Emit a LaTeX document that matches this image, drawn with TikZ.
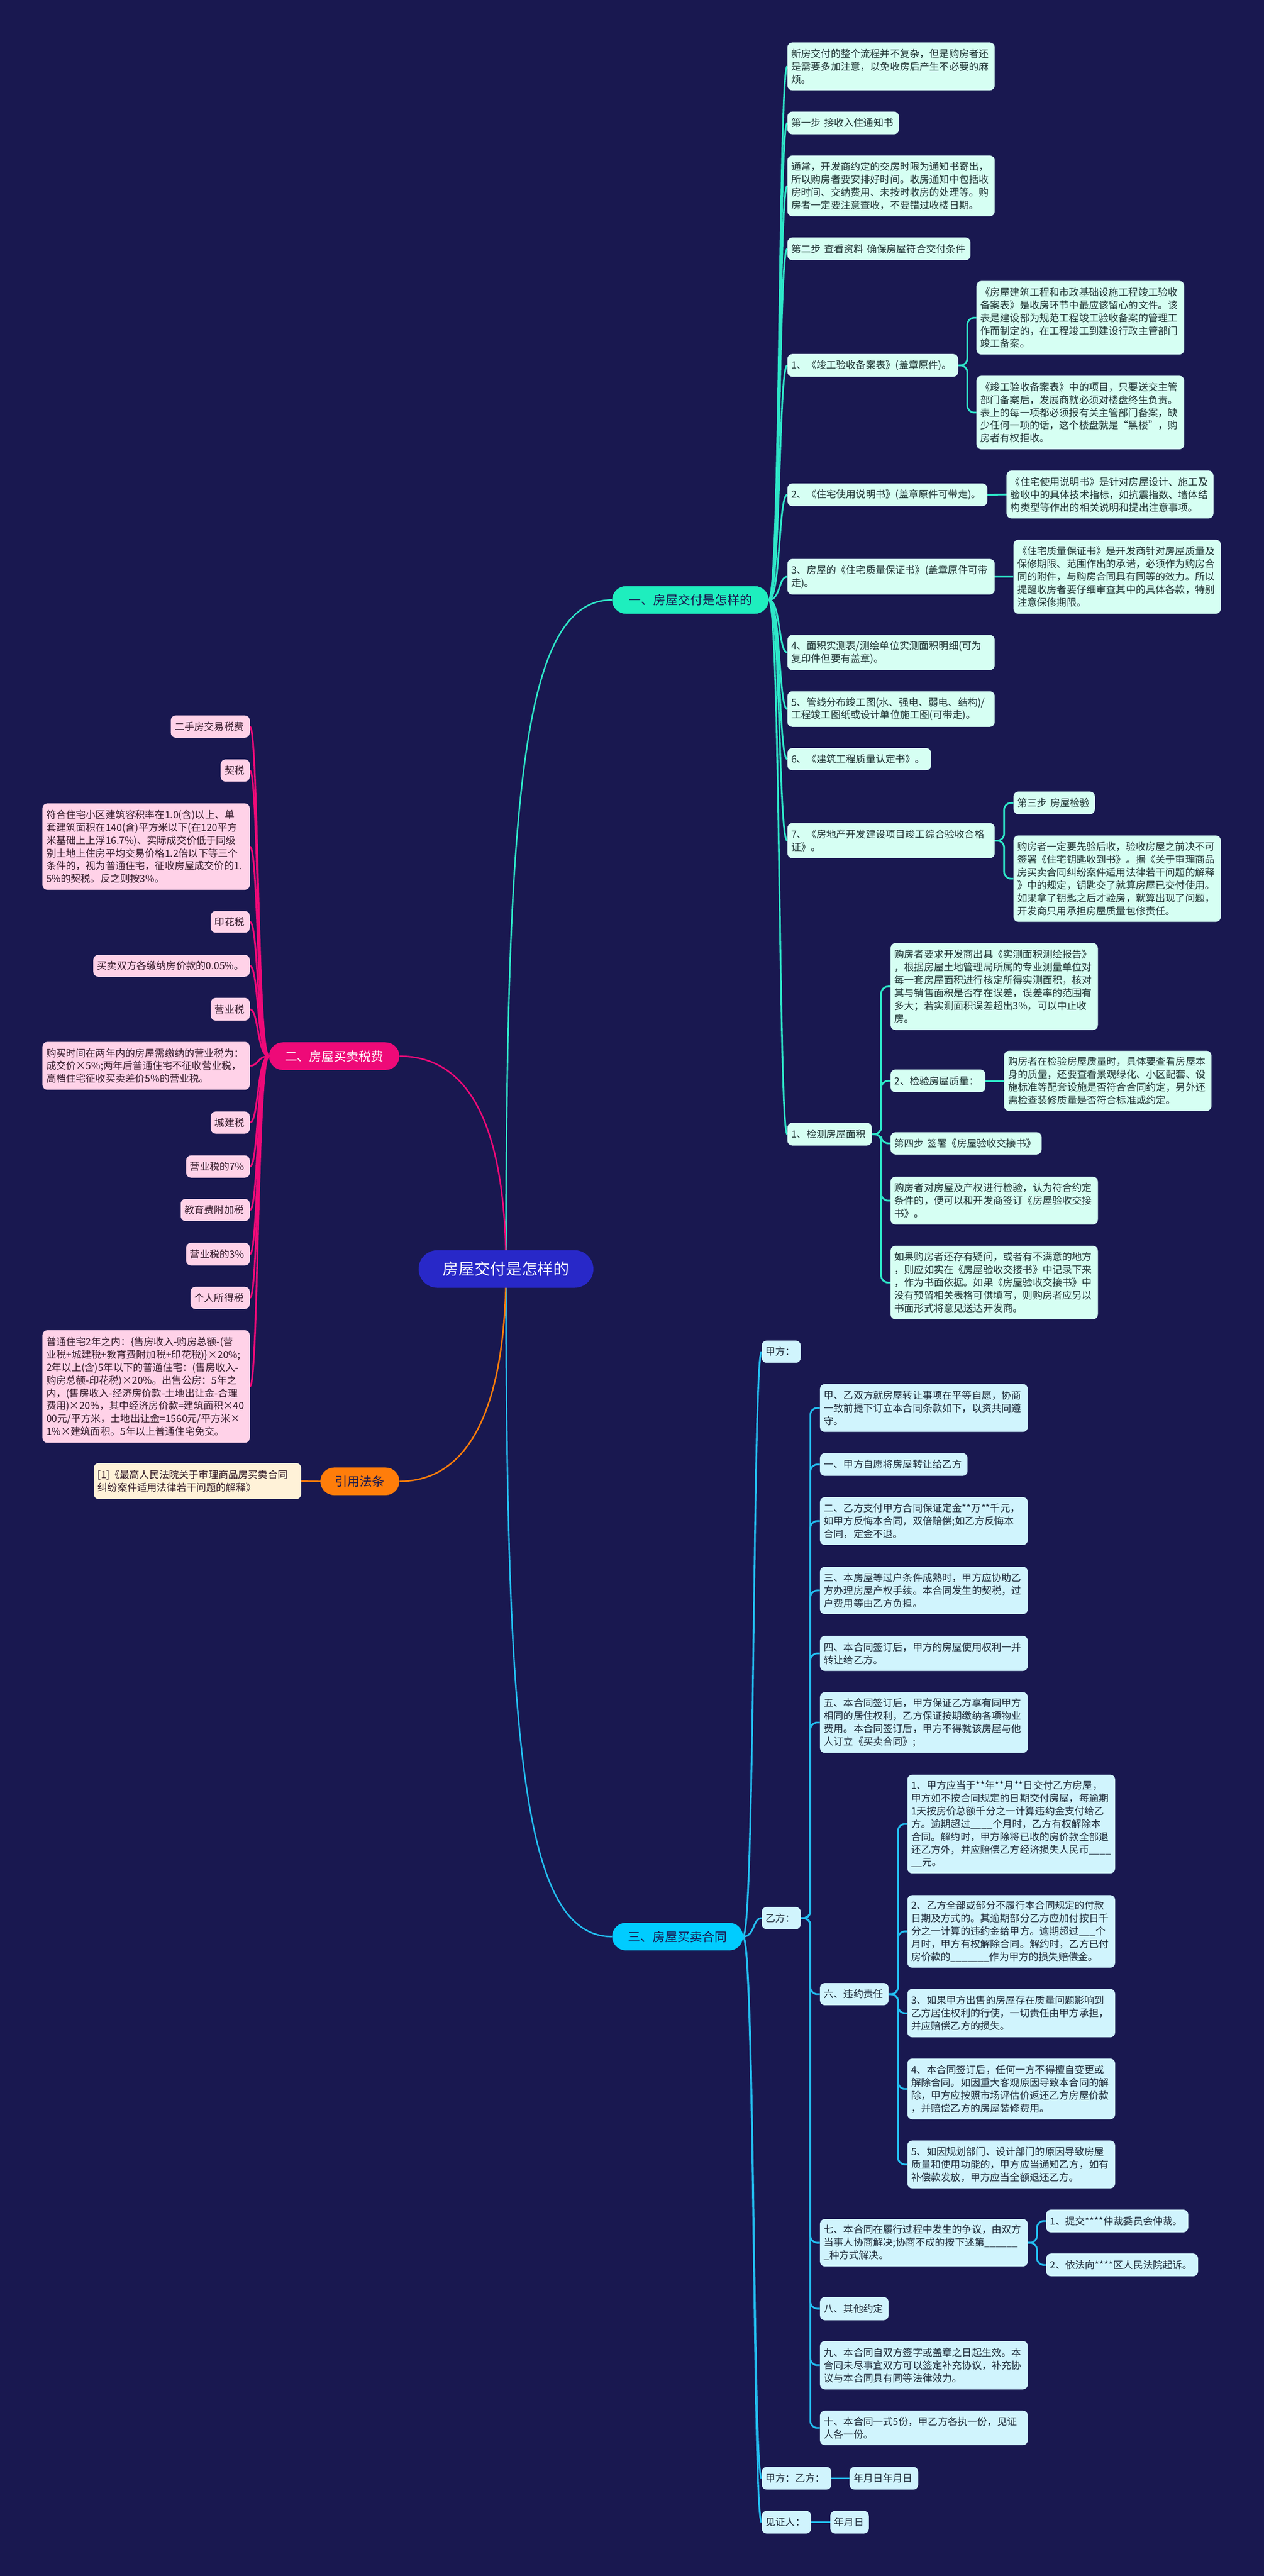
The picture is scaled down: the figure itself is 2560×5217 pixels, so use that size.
\documentclass[tikz,border=0pt]{standalone}
\usepackage{fontspec}
\setmainfont{Noto Sans CJK SC}
\usetikzlibrary{calc}
\definecolor{bgc}{RGB}{25,24,80}
\definecolor{mintl}{RGB}{46,230,200}
\definecolor{mintn}{RGB}{30,238,190}
\definecolor{mintb}{RGB}{214,255,243}
\definecolor{mintt}{RGB}{30,50,50}
\definecolor{pinkl}{RGB}{238,10,120}
\definecolor{pinkb}{RGB}{255,210,232}
\definecolor{pinkt}{RGB}{50,25,40}
\definecolor{cyanl}{RGB}{35,190,240}
\definecolor{cyann}{RGB}{0,204,255}
\definecolor{cyanb}{RGB}{208,244,253}
\definecolor{cyant}{RGB}{28,40,55}
\definecolor{orgl}{RGB}{255,125,10}
\definecolor{orgb}{RGB}{255,242,216}
\definecolor{cntr}{RGB}{40,40,200}
\pgfdeclarelayer{back}
\pgfsetlayers{back,main}
\newcommand\bx[7]{%
  \pgfmathsetmacro\bw{#5-#3}\pgfmathsetmacro\bh{#6-#4}\pgfmathsetmacro\tw{#5-#3-16}%
  \node[#2, minimum width=\bw pt, minimum height=\bh pt, text width=\tw pt] (#1) at ({(#3+#5)/2},{(#4+#6)/2}) {#7};}
\newcommand\elb[3]{%
  \path (#2.east) -- (#3.west) coordinate[pos=0.5] (mid);
  \draw[#1, rounded corners=14pt] (#2.east) -- (mid |- #2.east) -- (mid |- #3.west) -- (#3.west);}
\newcommand\trR[3]{\draw[#1] (#2.east) .. controls +(24,0) and +(-18,0) .. (#3.west);}
\newcommand\trL[3]{\draw[#1] (#2.west) .. controls +(-24,0) and +(18,0) .. (#3.east);}
\begin{document}
\begin{tikzpicture}[x=1pt,y=-1pt,
  every node/.style={font=\fontsize{20}{26}\selectfont, inner ysep=0pt, inner xsep=8pt, align=left},
  mbox/.style={fill=mintb, text=mintt, rounded corners=10pt},
  pbox/.style={fill=pinkb, text=pinkt, rounded corners=10pt},
  cbox/.style={fill=cyanb, text=cyant, rounded corners=10pt},
  obox/.style={fill=orgb, text=pinkt, rounded corners=10pt},
  bnode/.style={rounded corners=28pt, minimum height=56pt, align=center, font=\fontsize{25}{30}\selectfont},
  ml/.style={draw=mintl, line width=3.5pt},
  pl/.style={draw=pinkl, line width=3.5pt},
  cl/.style={draw=cyanl, line width=3.5pt},
  ol/.style={draw=orgl, line width=3pt}]
\useasboundingbox (0,0) rectangle (2560,5217);
\begin{pgfonlayer}{back}
\fill[bgc] (0,0) rectangle (2560,5217);
\end{pgfonlayer}

% center and branches
\node[fill=cntr, text=white, rounded corners=38pt, minimum width=354pt, minimum height=76pt, align=center, font=\fontsize{32}{36}\selectfont] (C) at (1025,2570) {房屋交付是怎样的};
\node[bnode, fill=mintn, text=bgc, minimum width=317pt] (B1) at (1398.5,1215) {一、房屋交付是怎样的};
\node[bnode, fill=pinkl, text=white, minimum width=264pt] (B2) at (677,2139) {二、房屋买卖税费};
\node[bnode, fill=orgl, text=bgc, minimum width=160pt] (B4) at (729,3000) {引用法条};
\node[bnode, fill=cyann, text=bgc, minimum width=265pt] (B3) at (1372.5,3922) {三、房屋买卖合同};

% branch 1
\bx{a1}{mbox}{1595}{86}{2015}{183}{新房交付的整个流程并不复杂，但是购房者还\\是需要多加注意，以免收房后产生不必要的麻\\烦。}
\bx{a2}{mbox}{1595}{226}{1821}{272}{第一步~接收入住通知书}
\bx{a3}{mbox}{1595}{315}{2015}{438}{通常，开发商约定的交房时限为通知书寄出，\\所以购房者要安排好时间。收房通知中包括收\\房时间、交纳费用、未按时收房的处理等。购\\房者一定要注意查收，不要错过收楼日期。}
\bx{a4}{mbox}{1595}{481}{1966}{527}{第二步~查看资料~确保房屋符合交付条件}
\bx{a5}{mbox}{1595}{717}{1941}{763}{1、《竣工验收备案表》(盖章原件)。}
\bx{a5a}{mbox}{1978}{569}{2399}{718}{《房屋建筑工程和市政基础设施工程竣工验收\\备案表》是收房环节中最应该留心的文件。该\\表是建设部为规范工程竣工验收备案的管理工\\作而制定的，在工程竣工到建设行政主管部门\\竣工备案。}
\bx{a5b}{mbox}{1978}{761}{2399}{910}{《竣工验收备案表》中的项目，只要送交主管\\部门备案后，发展商就必须对楼盘终生负责。\\表上的每一项都必须报有关主管部门备案，缺\\少任何一项的话，这个楼盘就是“黑楼”，购\\房者有权拒收。}
\bx{a6}{mbox}{1595}{979}{2000}{1025}{2、《住宅使用说明书》(盖章原件可带走)。}
\bx{a6a}{mbox}{2039}{953}{2458}{1050}{《住宅使用说明书》是针对房屋设计、施工及\\验收中的具体技术指标，如抗震指数、墙体结\\构类型等作出的相关说明和提出注意事项。}
\bx{a7}{mbox}{1595}{1132}{2015}{1204}{3、房屋的《住宅质量保证书》(盖章原件可带\\走)。}
\bx{a7a}{mbox}{2053}{1093}{2473}{1243}{《住宅质量保证书》是开发商针对房屋质量及\\保修期限、范围作出的承诺，必须作为购房合\\同的附件，与购房合同具有同等的效力。所以\\提醒收房者要仔细审查其中的具体各款，特别\\注意保修期限。}
\bx{a8}{mbox}{1595}{1286}{2015}{1357}{4、面积实测表/测绘单位实测面积明细(可为\\复印件但要有盖章)。}
\bx{a9}{mbox}{1595}{1400}{2015}{1472}{5、管线分布竣工图(水、强电、弱电、结构)/\\工程竣工图纸或设计单位施工图(可带走)。}
\bx{a10}{mbox}{1595}{1515}{1886}{1560}{6、《建筑工程质量认定书》。}
\bx{a11}{mbox}{1595}{1667}{2015}{1738}{7、《房地产开发建设项目竣工综合验收合格\\证》。}
\bx{a11a}{mbox}{2053}{1603}{2218}{1649}{第三步~房屋检验}
\bx{a11b}{mbox}{2053}{1692}{2473}{1867}{购房者一定要先验后收，验收房屋之前决不可\\签署《住宅钥匙收到书》。据《关于审理商品\\房买卖合同纠纷案件适用法律若干问题的解释\\》中的规定，钥匙交了就算房屋已交付使用。\\如果拿了钥匙之后才验房，就算出现了问题，\\开发商只用承担房屋质量包修责任。}
\bx{a12}{mbox}{1595}{2274}{1766}{2320}{1、检测房屋面积}
\bx{a12a}{mbox}{1804}{1910}{2224}{2086}{购房者要求开发商出具《实测面积测绘报告》\\，根据房屋土地管理局所属的专业测量单位对\\每一套房屋面积进行核定所得实测面积，核对\\其与销售面积是否存在误差，误差率的范围有\\多大；若实测面积误差超出3\%，可以中止收\\房。}
\bx{a12b}{mbox}{1804}{2166}{1996}{2212}{2、检验房屋质量：}
\bx{a12bb}{mbox}{2034}{2128}{2454}{2250}{购房者在检验房屋质量时，具体要查看房屋本\\身的质量，还要查看景观绿化、小区配套、设\\施标准等配套设施是否符合合同约定，另外还\\需检查装修质量是否符合标准或约定。}
\bx{a12c}{mbox}{1804}{2293}{2110}{2338}{第四步~签署《房屋验收交接书》}
\bx{a12d}{mbox}{1804}{2383}{2224}{2480}{购房者对房屋及产权进行检验，认为符合约定\\条件的，便可以和开发商签订《房屋验收交接\\书》。}
\bx{a12e}{mbox}{1804}{2523}{2224}{2672}{如果购房者还存有疑问，或者有不满意的地方\\，则应如实在《房屋验收交接书》中记录下来\\，作为书面依据。如果《房屋验收交接书》中\\没有预留相关表格可供填写，则购房者应另以\\书面形式将意见送达开发商。}

% branch 2
\bx{p1}{pbox}{346}{1449}{506}{1494}{二手房交易税费}
\bx{p2}{pbox}{447}{1538}{506}{1583}{契税}
\bx{p3}{pbox}{86}{1627}{506}{1802}{符合住宅小区建筑容积率在1.0(含)以上、单\\套建筑面积在140(含)平方米以下(在120平方\\米基础上上浮16.7\%)、实际成交价低于同级\\别土地上住房平均交易价格1.2倍以下等三个\\条件的，视为普通住宅，征收房屋成交价的1.\\5\%的契税。反之则按3\%。}
\bx{p4}{pbox}{427}{1845}{506}{1889}{印花税}
\bx{p5}{pbox}{189}{1934}{506}{1978}{买卖双方各缴纳房价款的0.05\%。}
\bx{p6}{pbox}{427}{2021}{506}{2067}{营业税}
\bx{p7}{pbox}{86}{2110}{506}{2207}{购买时间在两年内的房屋需缴纳的营业税为：\\成交价×5\%;两年后普通住宅不征收营业税，\\高档住宅征收买卖差价5\%的营业税。}
\bx{p8}{pbox}{427}{2251}{506}{2296}{城建税}
\bx{p9}{pbox}{377}{2340}{506}{2385}{营业税的7\%}
\bx{p10}{pbox}{366}{2428}{506}{2473}{教育费附加税}
\bx{p11}{pbox}{377}{2517}{506}{2563}{营业税的3\%}
\bx{p12}{pbox}{386}{2606}{506}{2651}{个人所得税}
\bx{p13}{pbox}{86}{2694}{506}{2922}{普通住宅2年之内：\{售房收入-购房总额-(营\\业税+城建税+教育费附加税+印花税)\}×20\%;\\2年以上(含)5年以下的普通住宅：(售房收入-\\购房总额-印花税)×20\%。出售公房：5年之\\内，(售房收入-经济房价款-土地出让金-合理\\费用)×20\%，其中经济房价款=建筑面积×40\\00元/平方米，土地出让金=1560元/平方米×\\1\%×建筑面积。5年以上普通住宅免交。}

% citation
\bx{o1}{obox}{190}{2963}{610}{3036}{[1]《最高人民法院关于审理商品房买卖合同\\纠纷案件适用法律若干问题的解释》}

% branch 3
\bx{c1}{cbox}{1543}{2715}{1622}{2760}{甲方：}
\bx{c2}{cbox}{1543}{3862}{1622}{3907}{乙方：}
\bx{c3}{cbox}{1543}{4996}{1684}{5042}{甲方：乙方：}
\bx{c3a}{cbox}{1721}{4996}{1860}{5042}{年月日年月日}
\bx{c4}{cbox}{1543}{5085}{1643}{5131}{见证人：}
\bx{c4a}{cbox}{1682}{5085}{1760}{5131}{年月日}
\bx{d1}{cbox}{1661}{2803}{2082}{2900}{甲、乙双方就房屋转让事项在平等自愿，协商\\一致前提下订立本合同条款如下，以资共同遵\\守。}
\bx{d2}{cbox}{1661}{2943}{1960}{2989}{一、甲方自愿将房屋转让给乙方}
\bx{d3}{cbox}{1661}{3032}{2082}{3129}{二、乙方支付甲方合同保证定金**万**千元，\\如甲方反悔本合同，双倍赔偿;如乙方反悔本\\合同，定金不退。}
\bx{d4}{cbox}{1661}{3173}{2082}{3269}{三、本房屋等过户条件成熟时，甲方应协助乙\\方办理房屋产权手续。本合同发生的契税，过\\户费用等由乙方负担。}
\bx{d5}{cbox}{1661}{3313}{2082}{3384}{四、本合同签订后，甲方的房屋使用权利一并\\转让给乙方。}
\bx{d6}{cbox}{1661}{3427}{2082}{3550}{五、本合同签订后，甲方保证乙方享有同甲方\\相同的居住权利，乙方保证按期缴纳各项物业\\费用。本合同签订后，甲方不得就该房屋与他\\人订立《买卖合同》;}
\bx{d7}{cbox}{1661}{4016}{1800}{4061}{六、违约责任}
\bx{e1}{cbox}{1838}{3594}{2259}{3794}{1、甲方应当于**年**月**日交付乙方房屋，\\甲方如不按合同规定的日期交付房屋，每逾期\\1天按房价总额千分之一计算违约金支付给乙\\方。逾期超过\_\_\_\_个月时，乙方有权解除本\\合同。解约时，甲方除将已收的房价款全部退\\还乙方外，并应赔偿乙方经济损失人民币\_\_\_\_\\\_\_元。}
\bx{e2}{cbox}{1838}{3838}{2259}{3985}{2、乙方全部或部分不履行本合同规定的付款\\日期及方式的。其逾期部分乙方应加付按日千\\分之一计算的违约金给甲方。逾期超过\_\_\_个\\月时，甲方有权解除合同。解约时，乙方已付\\房价款的\_\_\_\_\_\_\_作为甲方的损失赔偿金。}
\bx{e3}{cbox}{1838}{4028}{2259}{4126}{3、如果甲方出售的房屋存在质量问题影响到\\乙方居住权利的行使，一切责任由甲方承担，\\并应赔偿乙方的损失。}
\bx{e4}{cbox}{1838}{4169}{2259}{4292}{4、本合同签订后，任何一方不得擅自变更或\\解除合同。如因重大客观原因导致本合同的解\\除，甲方应按照市场评估价返还乙方房屋价款\\，并赔偿乙方的房屋装修费用。}
\bx{e5}{cbox}{1838}{4335}{2259}{4432}{5、如因规划部门、设计部门的原因导致房屋\\质量和使用功能的，甲方应当通知乙方，如有\\补偿款发放，甲方应当全额退还乙方。}
\bx{d8}{cbox}{1661}{4494}{2082}{4590}{七、本合同在履行过程中发生的争议，由双方\\当事人协商解决;协商不成的按下述第\_\_\_\_\_\_\\\_种方式解决。}
\bx{f1}{cbox}{2119}{4475}{2407}{4521}{1、提交****仲裁委员会仲裁。}
\bx{f2}{cbox}{2119}{4564}{2427}{4610}{2、依法向****区人民法院起诉。}
\bx{d9}{cbox}{1661}{4652}{1800}{4699}{八、其他约定}
\bx{d10}{cbox}{1661}{4741}{2082}{4839}{九、本合同自双方签字或盖章之日起生效。本\\合同未尽事宜双方可以签定补充协议，补充协\\议与本合同具有同等法律效力。}
\bx{d11}{cbox}{1661}{4882}{2082}{4952}{十、本合同一式5份，甲乙方各执一份，见证\\人各一份。}

\begin{pgfonlayer}{back}
% center curves
\draw[mintl, line width=3pt] (C.center) .. controls (1025,1600) and (1060,1215) .. (B1.west);
\draw[cyanl, line width=3pt] (C.center) .. controls (1025,3540) and (1060,3922) .. (B3.west);
\draw[pinkl, line width=3pt] (C.center) .. controls (1025,2300) and (960,2139) .. (B2.east);
\draw[orgl, line width=3pt] (C.center) .. controls (1025,2830) and (960,3000) .. (B4.east);
% branch 1
\foreach \n in {a1,a2,a3,a4,a5,a6,a7,a8,a9,a10,a11,a12}{\trR{ml}{B1}{\n}}
\elb{ml}{a5}{a5a}\elb{ml}{a5}{a5b}
\draw[ml] (a6.east) -- (a6a.west);
\draw[ml] (a7.east) -- (a7a.west);
\elb{ml}{a11}{a11a}\elb{ml}{a11}{a11b}
\foreach \n in {a12a,a12b,a12c,a12d,a12e}{\elb{ml}{a12}{\n}}
\draw[ml] (a12b.east) -- (a12bb.west);
% branch 2
\foreach \n in {p1,p2,p3,p4,p5,p6,p7,p8,p9,p10,p11,p12,p13}{\trL{pl}{B2}{\n}}
% citation
\draw[ol] (B4.west) -- (o1.east);
% branch 3
\foreach \n in {c1,c2,c3,c4}{\trR{cl}{B3}{\n}}
\draw[cl] (c3.east) -- (c3a.west);
\draw[cl] (c4.east) -- (c4a.west);
\foreach \n in {d1,d2,d3,d4,d5,d6,d7,d8,d9,d10,d11}{\elb{cl}{c2}{\n}}
\foreach \n in {e1,e2,e3,e4,e5}{\elb{cl}{d7}{\n}}
\elb{cl}{d8}{f1}\elb{cl}{d8}{f2}
\end{pgfonlayer}
\end{tikzpicture}
\end{document}
